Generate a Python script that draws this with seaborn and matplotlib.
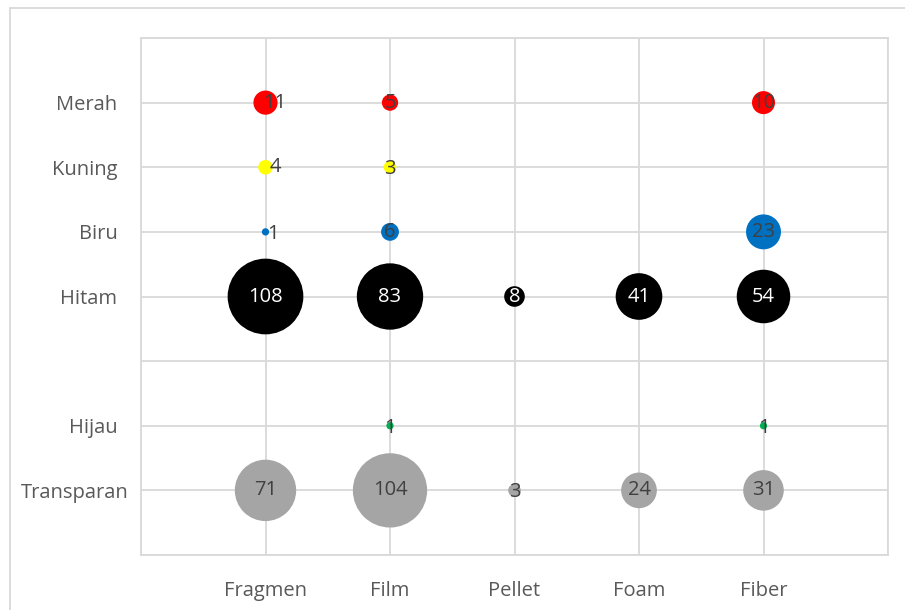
import matplotlib
matplotlib.use("Agg")
import matplotlib.pyplot as plt
import matplotlib.transforms as mtransforms
import seaborn as sns
import pandas as pd
from matplotlib.patches import Rectangle

# Microplastic counts by shape (columns) and colour (rows)
shapes = ["Fragmen", "Film", "Pellet", "Foam", "Fiber"]
colours = ["Merah", "Kuning", "Biru", "Hitam", "Hijau", "Transparan"]

merah = [11, 5, None, None, 10]
kuning = [4, 3, None, None, None]
biru = [1, 6, None, None, 23]
hitam = [108, 83, 8, 41, 54]
hijau = [None, 1, None, None, 1]
transparan = [71, 104, 3, 24, 31]

fill = {
    "Merah": "#FF0000",
    "Kuning": "#FFFF00",
    "Biru": "#0070C0",
    "Hitam": "#000000",
    "Hijau": "#00B050",
    "Transparan": "#A5A5A5",
}

# vertical slot of each colour row (slot 3 left empty)
row_level = {"Merah": 7, "Kuning": 6, "Biru": 5, "Hitam": 4, "Hijau": 2, "Transparan": 1}

series = dict(zip(colours, [merah, kuning, biru, hitam, hijau, transparan]))
records = []
for c in colours:
    for i, s in enumerate(shapes):
        v = series[c][i]
        if v is not None:
            records.append({"shape": s, "x": i + 1, "colour": c, "y": row_level[c], "count": v})
df = pd.DataFrame(records)

sns.set_theme(style="white")
plt.rcParams["font.family"] = ["Open Sans", "DejaVu Sans"]

fig = plt.figure(figsize=(9.05, 6.10), dpi=100)
ax = fig.add_axes([141 / 905, 1 - 555 / 610, (888 - 141) / 905, (555 - 38) / 610])

# bubble area proportional to the count
k = 27.5
vmax = df["count"].max()
sns.scatterplot(
    data=df, x="x", y="y", hue="colour", palette=fill, size="count",
    sizes=(0, vmax * k), size_norm=(0, vmax), linewidth=0, alpha=1,
    legend=False, ax=ax, zorder=3,
)

# data labels
nudge = {("Fragmen", "Merah"): 9, ("Fragmen", "Kuning"): 10, ("Fragmen", "Biru"): 7}
for _, r in df.iterrows():
    dx = nudge.get((r["shape"], r["colour"]), 0)
    dy = -2 if r["count"] <= 3 else 0
    col = "white" if r["colour"] == "Hitam" else "#404040"
    ax.annotate(str(r["count"]), (r["x"], r["y"]), xytext=(dx * 0.72, dy * 0.72),
                textcoords="offset points", ha="center", va="center",
                fontsize=14.5, color=col, zorder=4)

ax.set_xlim(0, 6)
ax.set_ylim(0, 8)
ax.set_xticks(range(0, 7))
ax.set_xticklabels([""] + shapes + [""])
ylabels = [""] * 9
for c, lv in row_level.items():
    ylabels[lv] = c
ax.set_yticks(range(0, 9))
ax.set_yticklabels(ylabels)
ax.set_xlabel("")
ax.set_ylabel("")

grid_c = "#D9D9D9"
ax.grid(True, color=grid_c, linewidth=1.3, zorder=0)
ax.set_axisbelow(True)
for sp in ax.spines.values():
    sp.set_color(grid_c)
    sp.set_linewidth(1.3)
ax.tick_params(axis="x", length=0, pad=18.5, labelsize=14.5, labelcolor="#595959")
ax.tick_params(axis="y", length=0, pad=17, labelsize=14.5, labelcolor="#595959")

# the long bottom row label sits a little closer to the plot area
for lab in ax.get_yticklabels():
    if lab.get_text() == "Transparan":
        lab.set_transform(lab.get_transform() + mtransforms.ScaledTranslation(8 / 72, 0, fig.dpi_scale_trans))

# chart frame
fig.patches.append(Rectangle((10 / 905, -0.05), 1.0, 1.05 - 7.5 / 610, transform=fig.transFigure,
                             fill=False, edgecolor=grid_c, linewidth=1.3))

fig.savefig("out.png", dpi=100)
